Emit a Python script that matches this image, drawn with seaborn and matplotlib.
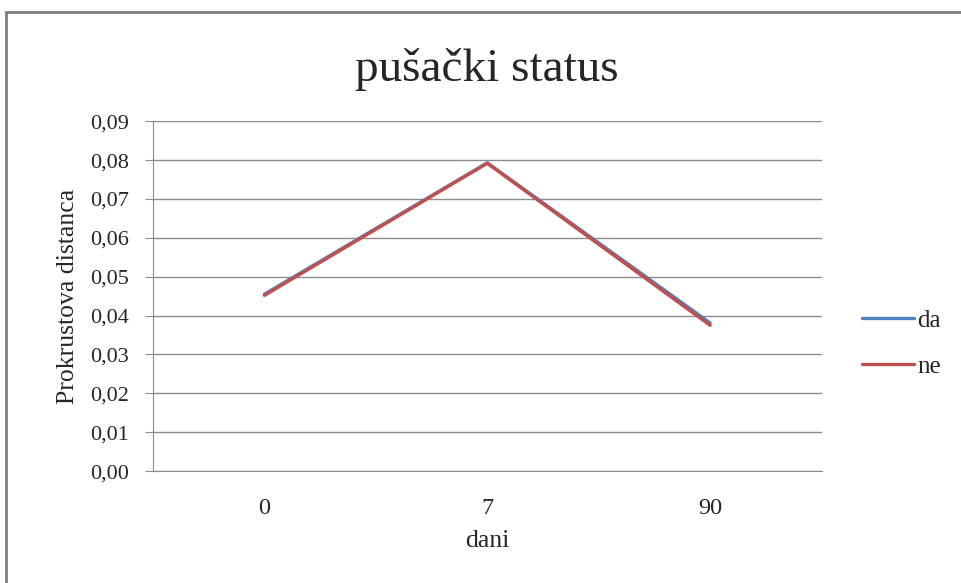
import pandas as pd
import seaborn as sns
import matplotlib.pyplot as plt
from matplotlib.patches import Rectangle

# podaci
dani = ['0', '7', '90']
da = [0.0455, 0.0793, 0.0381]
ne = [0.0452, 0.0792, 0.0375]
y_ticks = [0.00, 0.01, 0.02, 0.03, 0.04, 0.05, 0.06, 0.07, 0.08, 0.09]

df = pd.DataFrame({
    'dani': dani * 2,
    'vrijednost': da + ne,
    'status': ['da'] * len(dani) + ['ne'] * len(dani),
})

sns.set_style('white')
plt.rcParams['font.family'] = ['Liberation Serif', 'DejaVu Serif']

fig = plt.figure(figsize=(9.62, 5.83), dpi=100)
ax = fig.add_axes([0.159, 0.192, 0.695, 0.600])

sns.lineplot(data=df, x='dani', y='vrijednost', hue='status', sort=False,
             palette={'da': '#4F81BD', 'ne': '#C0504D'}, linewidth=2.4, ax=ax)

ax.set_xlim(-0.5, 2.5)
ax.set_ylim(0, 0.09)
ax.set_yticks(y_ticks)
ax.set_yticklabels([f'{v:.2f}'.replace('.', ',') for v in y_ticks])
ax.yaxis.grid(True, color='#8c8c8c', linewidth=1)
ax.set_axisbelow(True)
for s in ['top', 'right']:
    ax.spines[s].set_visible(False)
for s in ['left', 'bottom']:
    ax.spines[s].set_color('#8c8c8c')
ax.tick_params(axis='y', left=True, length=6, color='#8c8c8c', labelsize=16, pad=11)
ax.tick_params(axis='x', bottom=False, labelsize=17.5, pad=16)

ax.set_xlabel('dani', fontsize=18.5, labelpad=8)
ax.set_ylabel('Prokrustova distanca', fontsize=18.5, labelpad=8)
ax.set_title('pušački status', fontsize=34, pad=29)

ax.legend(frameon=False, loc='center left', bbox_to_anchor=(0.896, 0.411),
          bbox_transform=fig.transFigure, borderaxespad=0, borderpad=0,
          fontsize=18, handlelength=2.1, handletextpad=0.1, labelspacing=0.95)

fig.patches.append(Rectangle((6 / 962, -0.2), 1.2, 1.2 - 12 / 583, transform=fig.transFigure,
                             fill=False, edgecolor='#7f7f7f', linewidth=2))

fig.savefig('out.png', dpi=100)
